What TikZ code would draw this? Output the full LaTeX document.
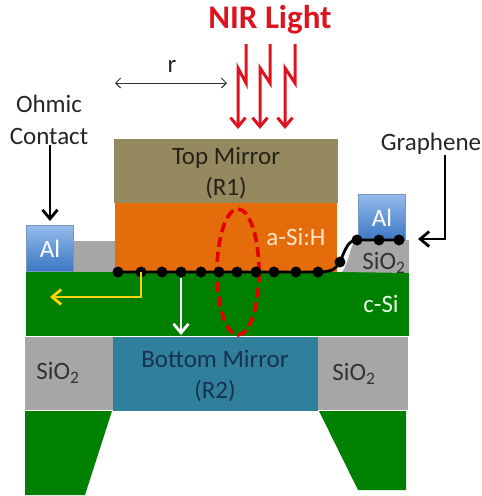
\documentclass[tikz,border=0pt]{standalone}
\usepackage{fontspec}
\setmainfont{Carlito}
\usepackage{tikz}
\usetikzlibrary{shapes.geometric, arrows.meta}
\definecolor{olivemirror}{HTML}{94895F}
\definecolor{orangesi}{HTML}{E46C0A}
\definecolor{greensi}{HTML}{008000}
\definecolor{greyoxide}{HTML}{A6A6A6}
\definecolor{bluemirror}{HTML}{31809B}
\definecolor{darkblue}{HTML}{17305A}
\definecolor{redlight}{HTML}{DC1420}
\definecolor{altop}{HTML}{95BBEA}
\definecolor{albottom}{HTML}{3A76C4}
\tikzstyle{layer} = [rectangle, inner sep=0pt]
\tikzstyle{contact} = [rectangle, inner sep=0pt, minimum width=47pt, minimum height=46pt, draw=altop!80!black, top color=altop, bottom color=albottom, text=white, font=\fontsize{25}{30}\selectfont]
\tikzstyle{label} = [inner sep=0pt, align=center, font=\fontsize{25}{31.5}\selectfont]
\tikzstyle{dot} = [circle, fill=black, inner sep=0pt, minimum size=11pt]
\tikzstyle{arrow} = [line width=2.8pt,-{Straight Barb[length=9pt,width=15pt]}]
\tikzstyle{bolt} = [line width=3pt,draw=redlight,-{Straight Barb[length=9pt,width=15pt]}]
\begin{document}
\begin{tikzpicture}[x=1pt,y=-1pt,node distance=66.5pt]
    \useasboundingbox (0,0) rectangle (482,496);
    % bottom silicon legs
    \fill [greensi] (25,411) -- (112,411) -- (85,495) -- (25,495) -- cycle;
    \fill [greensi] (319,411) -- (406,411) -- (406,490) -- (358,490) -- cycle;
    % stack
    \node (TopMirror) [layer, fill=olivemirror, minimum width=224pt, minimum height=64pt] at (226,171) {};
    \node (ASi) [layer, fill=orangesi, minimum width=222pt, minimum height=69pt, below of = TopMirror] {};
    \node (CSi) [layer, fill=greensi, minimum width=383pt, minimum height=64pt] at (217.5,304) {};
    \node (OxideLeft) [layer, fill=greyoxide, minimum width=41pt, minimum height=31pt] at (94.5,256.5) {};
    \fill [greyoxide] (342,272) .. controls (350,262) and (350,240) .. (358,240) -- (409,240) -- (409,273) -- cycle;
    \node (AlLeft) [contact] at (50,248.5) {Al};
    \node (AlRight) [contact] at (382,217.5) {Al};
    % lower row
    \node (OxideBottomLeft) [layer, fill=greyoxide, minimum width=88pt, minimum height=73pt] at (69,373.5) {};
    \node (BottomMirror) [layer, fill=bluemirror, minimum width=205pt, minimum height=74pt] at (215.5,374) {};
    \node (OxideBottomRight) [layer, fill=greyoxide, minimum width=90pt, minimum height=73pt] at (363,373.5) {};
    % labels
    \node (TopMirrorLabel) [label, text=black!75!olivemirror] at (226,173) {Top Mirror\\(R1)};
    \node (BottomMirrorLabel) [label, text=darkblue] at (215,376) {Bottom Mirror\\(R2)};
    \node (OxideLabelLeft) [label, text=black!80] at (58,373) {SiO\textsubscript{2}};
    \node (OxideLabelRight) [label, text=black!80] at (354,374) {SiO\textsubscript{2}};
    \node (ASiLabel) [label, text=orange!20!white] at (296,237) {a-Si:H};
    \node (CSiLabel) [label, text=green!10!white] at (381,304) {c-Si};
    \node (OxideLabel) [label, text=black!80] at (384,263) {SiO\textsubscript{2}};
    \node (Ohmic) [label, text=black!85] at (49,120) {Ohmic\\Contact};
    \node (Graphene) [label, text=black!85] at (431,144) {Graphene};
    \node (Radius) [label, text=black!85] at (172,66) {r};
    \node (Nir) [label, text=redlight, font=\fontsize{33}{36}\selectfont\bfseries] at (270,20) {NIR Light};
    % ring
    \node (Ring) [ellipse, draw=red!90!black, line width=3.6pt, dash pattern=on 10pt off 5pt, inner sep=0pt, minimum width=42pt, minimum height=126pt] at (238,272) {};
    % graphene sheet
    \foreach \name/\x/\y in {a/118/272,b/141/272,c/162/272,d/181/272,e/201/272,f/219/272,g/237/272,h/256/272,i/274/272,j/296/272,k/318/272,l/340/262,m/357/240,n/379/240,o/399/240}
        \node (Dot\name) [dot] at (\x,\y) {};
    \draw [line width=2.8pt] (Dota.center) -- (Dotk.center) .. controls (334,272) and (336,268) .. (Dotl.center) .. controls (345,250) and (348,240) .. (Dotm.center) -- (Doto.center);
    % arrows
    \coordinate (YellowEnd) at (50,297);
    \coordinate (WhiteEnd) at (181,335);
    \coordinate (OhmicEnd) at (50,221);
    \coordinate (GrapheneEnd) at (418,239);
    \coordinate (RadiusLeft) at (115,83);
    \coordinate (RadiusRight) at (227,83);
    \draw [arrow, draw=yellow!70!orange] (Dotb.center) |- (YellowEnd);
    \draw [arrow, draw=white] (Dotd.south) -- (WhiteEnd);
    \draw [arrow] (Ohmic.south -| OhmicEnd) -- (OhmicEnd);
    \draw [arrow] (Graphene.south -| 445,0) |- (GrapheneEnd);
    \draw [{Straight Barb[length=5pt,width=10pt]}-{Straight Barb[length=5pt,width=10pt]}, line width=0.9pt, draw=black!80] (RadiusLeft) -- (RadiusRight);
    % light
    \foreach \top/\bottom in {246/238,270/260,295/285} {
        \coordinate (BoltStart) at (\top,44);
        \coordinate (BoltEnd) at (\bottom,129);
        \draw [bolt] (BoltStart) -- (\top,83) -- (\bottom,68) -- (BoltEnd);
    }
\end{tikzpicture}
\end{document}
